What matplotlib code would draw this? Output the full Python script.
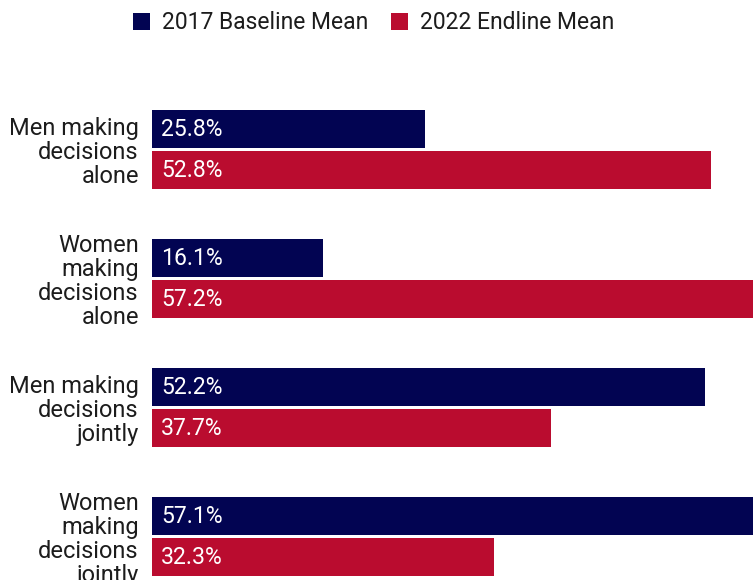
import numpy as np
import matplotlib
matplotlib.use("Agg")
import matplotlib.pyplot as plt
from matplotlib.patches import Patch

plt.rcParams['font.family'] = ['Roboto', 'DejaVu Sans']

# decision-making shares, baseline vs endline
categories = ["Men making\ndecisions\nalone",
              "Women\nmaking\ndecisions\nalone",
              "Men making\ndecisions\njointly",
              "Women\nmaking\ndecisions\njointly"]
baseline_2017 = [25.8, 16.1, 52.2, 57.1]
endline_2022 = [52.8, 57.2, 37.7, 32.3]
series_names = ["2017 Baseline Mean", "2022 Endline Mean"]

navy = "#020452"
crimson = "#ba0c2f"
text_col = "#1c1c1c"

fig = plt.figure(figsize=(7.53, 5.80), dpi=100)
ax = fig.add_axes([152 / 753, 0, 601 / 753, 1])

y = np.arange(len(categories))
h = 0.295
off = 0.159

b1 = ax.barh(y - off, baseline_2017, height=h, color=navy)
b2 = ax.barh(y + off, endline_2022, height=h, color=crimson)

for bars, vals in ((b1, baseline_2017), (b2, endline_2022)):
    for bar, v in zip(bars, vals):
        ax.annotate(f"{v:.1f}%", xy=(0, bar.get_y() + bar.get_height() / 2),
                    xytext=(6.5, 0), textcoords="offset points",
                    ha="left", va="center", color="white", fontsize=16.6)

ax.set_xlim(0, 56.75)
ax.set_ylim(3.337, -1.159)
ax.set_yticks(y)
ax.set_yticklabels(categories, fontsize=17, color=text_col, linespacing=1.05)
ax.tick_params(axis="y", length=0, pad=9.5)
ax.set_xticks([])
for s in ax.spines.values():
    s.set_visible(False)

handles = [Patch(facecolor=navy), Patch(facecolor=crimson)]
fig.legend(handles, series_names, loc="center", bbox_to_anchor=(0.496, 0.961),
           ncol=2, frameon=False, fontsize=16.5, labelcolor=text_col,
           handlelength=0.75, handleheight=0.75, handletextpad=0.5,
           columnspacing=1.0)

fig.savefig("out.png", dpi=100)
